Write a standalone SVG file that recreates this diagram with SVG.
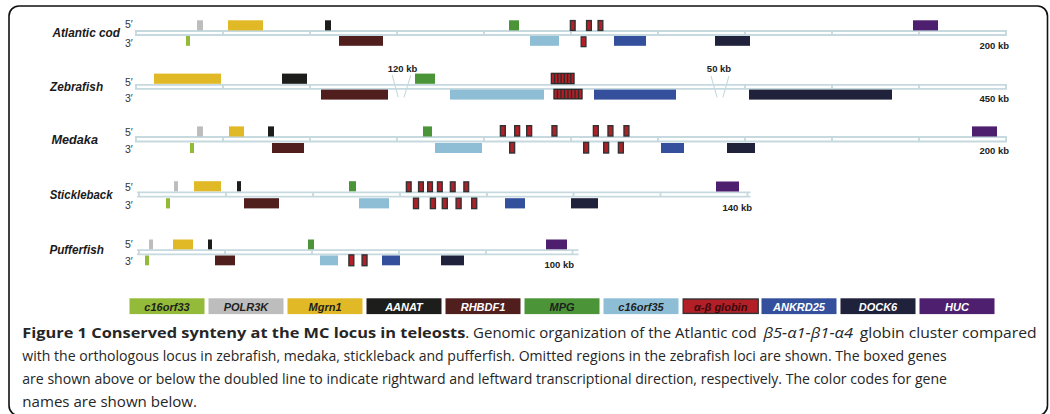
<svg xmlns="http://www.w3.org/2000/svg" width="1050" height="414" viewBox="0 0 1050 414">
  <defs>
    <style>
      .frame { fill: #ffffff; stroke: #111111; stroke-width: 1.6; }
      .rail { fill: none; stroke: #c5d9de; stroke-width: 1.8; }
      .gap { fill: none; stroke: #c5d9de; stroke-width: 1.1; }
      .sp { font-family: "Liberation Sans", Arial, sans-serif; font-style: italic; font-weight: bold; font-size: 13px; fill: #1a1a1a; }
      .end { font-family: "Liberation Sans", Arial, sans-serif; font-size: 10.5px; fill: #333333; }
      .kb { font-family: "Liberation Sans", Arial, sans-serif; font-weight: bold; font-size: 9.5px; fill: #222222; }
      .lg { font-family: "Liberation Sans", Arial, sans-serif; font-style: italic; font-weight: bold; font-size: 11px; text-anchor: middle; }
      .cap { font-family: "Open Sans", "Noto Sans", sans-serif; font-size: 14.5px; fill: #262626; }
      .c16orf33 { fill: #93ba38; }
      .POLR3K { fill: #bdbdbd; }
      .Mgrn1 { fill: #e1b825; }
      .AANAT { fill: #1d1d1b; }
      .RHBDF1 { fill: #511e1e; }
      .MPG { fill: #4b9538; }
      .c16orf35 { fill: #8ebed6; }
      .glob { fill: #b21f27; stroke: #333333; stroke-width: 1.4; }
      .ANKRD25 { fill: #34509d; }
      .DOCK6 { fill: #20213a; }
      .HUC { fill: #4e1f6e; }
      .cluster { fill: #2b2b2b; }
      .stripe { fill: #b21f27; }
    </style>
  </defs>

  <rect class="frame" x="9" y="6" width="1038.5" height="409.5" rx="10" ry="10"/>

  <!-- chromosome rails (doubled lines with scale ticks) and omitted-region marks -->
  <g id="connectors">
    <path class="rail" d="M135 31 H1007 M135 35 H1007 M136 31 V35 M223 31 V35 M310 31 V35 M397 31 V35 M484 31 V35 M571 31 V35 M658 31 V35 M745 31 V35 M832 31 V35 M919 31 V35 M1006 31 V35"/>
    <path class="rail" d="M135 84.8 H1007 M135 88.8 H1007 M136 84.8 V88.8 M223 84.8 V88.8 M310 84.8 V88.8 M745 84.8 V88.8 M832 84.8 V88.8 M919 84.8 V88.8 M1006 84.8 V88.8"/>
    <path class="rail" d="M135 137 H1007 M135 141.5 H1007 M136 137 V141.5 M223 137 V141.5 M310 137 V141.5 M397 137 V141.5 M484 137 V141.5 M571 137 V141.5 M658 137 V141.5 M745 137 V141.5 M832 137 V141.5 M919 137 V141.5 M1006 137 V141.5"/>
    <path class="rail" d="M137 192.3 H750.5 M137 196.7 H750.5 M139 192.3 V196.7 M226 192.3 V196.7 M313 192.3 V196.7 M400 192.3 V196.7 M487 192.3 V196.7 M573.5 192.3 V196.7 M660.5 192.3 V196.7 M747.5 192.3 V196.7"/>
    <path class="rail" d="M137 250.2 H578.5 M137 254.4 H578.5 M139 250.2 V254.4 M225 250.2 V254.4 M312 250.2 V254.4 M399 250.2 V254.4 M486 250.2 V254.4 M572.5 250.2 V254.4"/>
    <path class="gap" d="M392.2 75.1 L398.3 97.4 M410.8 75.1 L404 97.4"/>
    <path class="gap" d="M711 76.1 L717.1 97.4 M728.9 76.1 L722.9 97.4"/>
  </g>

  <g id="atlantic-cod">
    <text class="sp" x="52.4" y="36.5" textLength="67.6" lengthAdjust="spacingAndGlyphs">Atlantic cod</text>
    <text class="end" x="125" y="28">5′</text>
    <text class="end" x="125" y="46.5">3′</text>
    <rect class="POLR3K" x="197" y="20.3" width="6" height="10.1"/>
    <rect class="Mgrn1" x="228" y="20.3" width="35" height="10.1"/>
    <rect class="AANAT" x="325" y="20.3" width="6" height="10.1"/>
    <rect class="MPG" x="509" y="20.3" width="10" height="10.1"/>
    <rect class="glob" x="570.4" y="20.6" width="4.7" height="9.8"/>
    <rect class="glob" x="586.6" y="20.6" width="4.7" height="9.8"/>
    <rect class="glob" x="598.1" y="20.6" width="4.7" height="9.8"/>
    <rect class="HUC" x="913" y="20.3" width="25" height="10.1"/>
    <rect class="c16orf33" x="186" y="36" width="4" height="9.8"/>
    <rect class="RHBDF1" x="339" y="36" width="44" height="9.8"/>
    <rect class="c16orf35" x="530" y="36" width="29" height="9.8"/>
    <rect class="glob" x="581.2" y="36.9" width="4.7" height="9.7"/>
    <rect class="ANKRD25" x="614" y="36" width="32" height="9.8"/>
    <rect class="DOCK6" x="715" y="36" width="35" height="9.8"/>
    <text class="kb" x="1009" y="49" text-anchor="end">200 kb</text>
  </g>

  <g id="zebrafish">
    <text class="sp" x="50" y="90.6" textLength="53.1" lengthAdjust="spacingAndGlyphs">Zebrafish</text>
    <text class="end" x="125" y="86.4">5′</text>
    <text class="end" x="125" y="102.3">3′</text>
    <rect class="Mgrn1" x="154" y="73.6" width="67" height="10.2"/>
    <rect class="AANAT" x="282" y="73.6" width="25" height="10.2"/>
    <rect class="MPG" x="415" y="73.6" width="20" height="10.2"/>
    <g id="zebrafish-globins-up">
      <rect class="cluster" x="550.7" y="72.7" width="24" height="11.6"/>
      <rect class="stripe" x="552" y="74" width="1.94" height="9"/>
      <rect class="stripe" x="555.24" y="74" width="1.94" height="9"/>
      <rect class="stripe" x="558.49" y="74" width="1.94" height="9"/>
      <rect class="stripe" x="561.73" y="74" width="1.94" height="9"/>
      <rect class="stripe" x="564.97" y="74" width="1.94" height="9"/>
      <rect class="stripe" x="568.22" y="74" width="1.94" height="9"/>
      <rect class="stripe" x="571.46" y="74" width="1.94" height="9"/>
    </g>
    <rect class="RHBDF1" x="321" y="89.6" width="67" height="10"/>
    <rect class="c16orf35" x="450" y="89.6" width="94" height="10"/>
    <g id="zebrafish-globins-down">
      <rect class="cluster" x="553.3" y="88.7" width="29.4" height="10.8"/>
      <rect class="stripe" x="554.6" y="90" width="2.21" height="8.2"/>
      <rect class="stripe" x="558.11" y="90" width="2.21" height="8.2"/>
      <rect class="stripe" x="561.63" y="90" width="2.21" height="8.2"/>
      <rect class="stripe" x="565.14" y="90" width="2.21" height="8.2"/>
      <rect class="stripe" x="568.65" y="90" width="2.21" height="8.2"/>
      <rect class="stripe" x="572.16" y="90" width="2.21" height="8.2"/>
      <rect class="stripe" x="575.68" y="90" width="2.21" height="8.2"/>
      <rect class="stripe" x="579.19" y="90" width="2.21" height="8.2"/>
    </g>
    <rect class="ANKRD25" x="594" y="89.6" width="82" height="10"/>
    <rect class="DOCK6" x="749" y="89.6" width="143" height="10"/>
    <text class="kb" x="402.6" y="71.7" text-anchor="middle">120 kb</text>
    <text class="kb" x="719" y="72" text-anchor="middle">50 kb</text>
    <text class="kb" x="1009" y="102.1" text-anchor="end">450 kb</text>
  </g>

  <g id="medaka">
    <text class="sp" x="51.4" y="144" textLength="46.6" lengthAdjust="spacingAndGlyphs">Medaka</text>
    <text class="end" x="125" y="135.5">5′</text>
    <text class="end" x="125" y="152.8">3′</text>
    <rect class="POLR3K" x="197" y="126.4" width="6" height="10.1"/>
    <rect class="Mgrn1" x="229" y="126.4" width="15" height="10.1"/>
    <rect class="AANAT" x="268" y="126.4" width="6" height="10.1"/>
    <rect class="MPG" x="423" y="126.4" width="9" height="10.1"/>
    <rect class="glob" x="500.4" y="125.7" width="4.9" height="10.3"/>
    <rect class="glob" x="514.7" y="125.7" width="4.9" height="10.3"/>
    <rect class="glob" x="526.7" y="125.7" width="4.9" height="10.3"/>
    <rect class="glob" x="552" y="125.7" width="4.9" height="10.3"/>
    <rect class="glob" x="593.4" y="125.7" width="4.9" height="10.3"/>
    <rect class="glob" x="608" y="125.7" width="4.9" height="10.3"/>
    <rect class="glob" x="624" y="125.7" width="4.9" height="10.3"/>
    <rect class="HUC" x="972" y="126.4" width="25" height="10.1"/>
    <rect class="c16orf33" x="190" y="143" width="4" height="10"/>
    <rect class="RHBDF1" x="272" y="143" width="32" height="10"/>
    <rect class="c16orf35" x="435" y="143" width="47" height="10"/>
    <rect class="glob" x="509.7" y="142.4" width="4.9" height="10.6"/>
    <rect class="glob" x="583.7" y="142.4" width="4.9" height="10.6"/>
    <rect class="glob" x="603.7" y="142.4" width="4.9" height="10.6"/>
    <rect class="glob" x="618.4" y="142.4" width="4.9" height="10.6"/>
    <rect class="ANKRD25" x="661" y="143" width="23" height="10"/>
    <rect class="DOCK6" x="727" y="143" width="28" height="10"/>
    <text class="kb" x="1009" y="154.1" text-anchor="end">200 kb</text>
  </g>

  <g id="stickleback">
    <text class="sp" x="49.7" y="198.7" textLength="62.9" lengthAdjust="spacingAndGlyphs">Stickleback</text>
    <text class="end" x="125" y="191">5′</text>
    <text class="end" x="125" y="209.3">3′</text>
    <rect class="POLR3K" x="174" y="181.2" width="4" height="10.1"/>
    <rect class="Mgrn1" x="194" y="181.2" width="27" height="10.1"/>
    <rect class="AANAT" x="237" y="181.2" width="4" height="10.1"/>
    <rect class="MPG" x="349" y="181.2" width="7" height="10.1"/>
    <rect class="glob" x="406.4" y="181.9" width="4.7" height="9.7"/>
    <rect class="glob" x="418.6" y="181.9" width="4.7" height="9.7"/>
    <rect class="glob" x="427.7" y="181.9" width="4.7" height="9.7"/>
    <rect class="glob" x="437.5" y="181.9" width="4.7" height="9.7"/>
    <rect class="glob" x="450.4" y="181.9" width="4.7" height="9.7"/>
    <rect class="glob" x="463.9" y="181.9" width="4.7" height="9.7"/>
    <rect class="HUC" x="716" y="181.5" width="23" height="10"/>
    <rect class="c16orf33" x="166" y="198.2" width="4" height="10.2"/>
    <rect class="RHBDF1" x="244" y="198.2" width="35" height="10.2"/>
    <rect class="c16orf35" x="359" y="198.2" width="30" height="10.2"/>
    <rect class="glob" x="413.5" y="198.2" width="5" height="10.4"/>
    <rect class="glob" x="430.4" y="198.2" width="5" height="10.4"/>
    <rect class="glob" x="442.3" y="198.2" width="5" height="10.4"/>
    <rect class="glob" x="456.1" y="198.2" width="5" height="10.4"/>
    <rect class="glob" x="471.7" y="198.2" width="5" height="10.4"/>
    <rect class="ANKRD25" x="505" y="198.2" width="20" height="10.2"/>
    <rect class="DOCK6" x="571" y="198.2" width="27" height="10.2"/>
    <text class="kb" x="752" y="211.2" text-anchor="end">140 kb</text>
  </g>

  <g id="pufferfish">
    <text class="sp" x="49.4" y="253.8" textLength="54.4" lengthAdjust="spacingAndGlyphs">Pufferfish</text>
    <text class="end" x="125" y="248.4">5′</text>
    <text class="end" x="125" y="265">3′</text>
    <rect class="POLR3K" x="149" y="239.5" width="4" height="9.8"/>
    <rect class="Mgrn1" x="173" y="239.5" width="20" height="9.8"/>
    <rect class="AANAT" x="208" y="239.5" width="4" height="9.8"/>
    <rect class="MPG" x="308" y="239.5" width="6" height="9.8"/>
    <rect class="HUC" x="546" y="239.5" width="21" height="9.8"/>
    <rect class="c16orf33" x="145" y="255.5" width="4" height="9.8"/>
    <rect class="RHBDF1" x="215" y="255.5" width="20" height="9.8"/>
    <rect class="c16orf35" x="320" y="255.5" width="18" height="9.8"/>
    <rect class="glob" x="348.9" y="254.9" width="4.9" height="10.8"/>
    <rect class="glob" x="362.1" y="254.9" width="4.9" height="10.8"/>
    <rect class="ANKRD25" x="382" y="255.5" width="18" height="9.8"/>
    <rect class="DOCK6" x="441" y="255.5" width="23" height="9.8"/>
    <text class="kb" x="574.1" y="268" text-anchor="end">100 kb</text>
  </g>

  <g id="legend">
    <rect class="c16orf33" x="129.5" y="298.3" width="75" height="15.8"/>
    <text class="lg" x="167" y="310.5" fill="#1e1e1e">c16orf33</text>
    <rect class="POLR3K" x="208.5" y="298.3" width="75" height="15.8"/>
    <text class="lg" x="246" y="310.5" fill="#1e1e1e">POLR3K</text>
    <rect class="Mgrn1" x="287.5" y="298.3" width="75" height="15.8"/>
    <text class="lg" x="325" y="310.5" fill="#1e1e1e">Mgrn1</text>
    <rect class="AANAT" x="366.5" y="298.3" width="75" height="15.8"/>
    <text class="lg" x="404" y="310.5" fill="#ffffff">AANAT</text>
    <rect class="RHBDF1" x="445.5" y="298.3" width="75" height="15.8"/>
    <text class="lg" x="483" y="310.5" fill="#ffffff">RHBDF1</text>
    <rect class="MPG" x="524.5" y="298.3" width="75" height="15.8"/>
    <text class="lg" x="562" y="310.5" fill="#1e1e1e">MPG</text>
    <rect class="c16orf35" x="603.5" y="298.3" width="75" height="15.8"/>
    <text class="lg" x="641" y="310.5" fill="#1e1e1e">c16orf35</text>
    <rect class="glob" x="683.2" y="299" width="75" height="14.4"/>
    <text class="lg" x="720.7" y="310.5" fill="#3a0a0c">α-β globin</text>
    <rect class="ANKRD25" x="761.5" y="298.3" width="75" height="15.8"/>
    <text class="lg" x="799" y="310.5" fill="#ffffff">ANKRD25</text>
    <rect class="DOCK6" x="840.5" y="298.3" width="75" height="15.8"/>
    <text class="lg" x="878" y="310.5" fill="#ffffff">DOCK6</text>
    <rect class="HUC" x="919.5" y="298.3" width="75" height="15.8"/>
    <text class="lg" x="957" y="310.5" fill="#ffffff">HUC</text>
  </g>

  <g id="caption">
    <text class="cap" x="22.3" y="337.5" font-weight="bold" fill="#111111" textLength="443" lengthAdjust="spacingAndGlyphs">Figure 1 Conserved synteny at the MC locus in teleosts</text>
    <text class="cap" x="465.3" y="337.5" textLength="291.4" lengthAdjust="spacingAndGlyphs">. Genomic organization of the Atlantic cod</text>
    <text class="cap" x="763.4" y="337.5" font-family="Liberation Serif, serif" font-style="italic" font-size="16" textLength="89.6" lengthAdjust="spacingAndGlyphs">β5-α1-β1-α4</text>
    <text class="cap" x="859.7" y="337.5" textLength="176.9" lengthAdjust="spacingAndGlyphs">globin cluster compared</text>
    <text class="cap" x="22.3" y="360.5" textLength="924.3" lengthAdjust="spacingAndGlyphs">with the orthologous locus in zebrafish, medaka, stickleback and pufferfish. Omitted regions in the zebrafish loci are shown. The boxed genes</text>
    <text class="cap" x="22.3" y="383.5" textLength="924.7" lengthAdjust="spacingAndGlyphs">are shown above or below the doubled line to indicate rightward and leftward transcriptional direction, respectively. The color codes for gene</text>
    <text class="cap" x="22.3" y="406.5" textLength="174.7" lengthAdjust="spacingAndGlyphs">names are shown below.</text>
  </g>
</svg>
